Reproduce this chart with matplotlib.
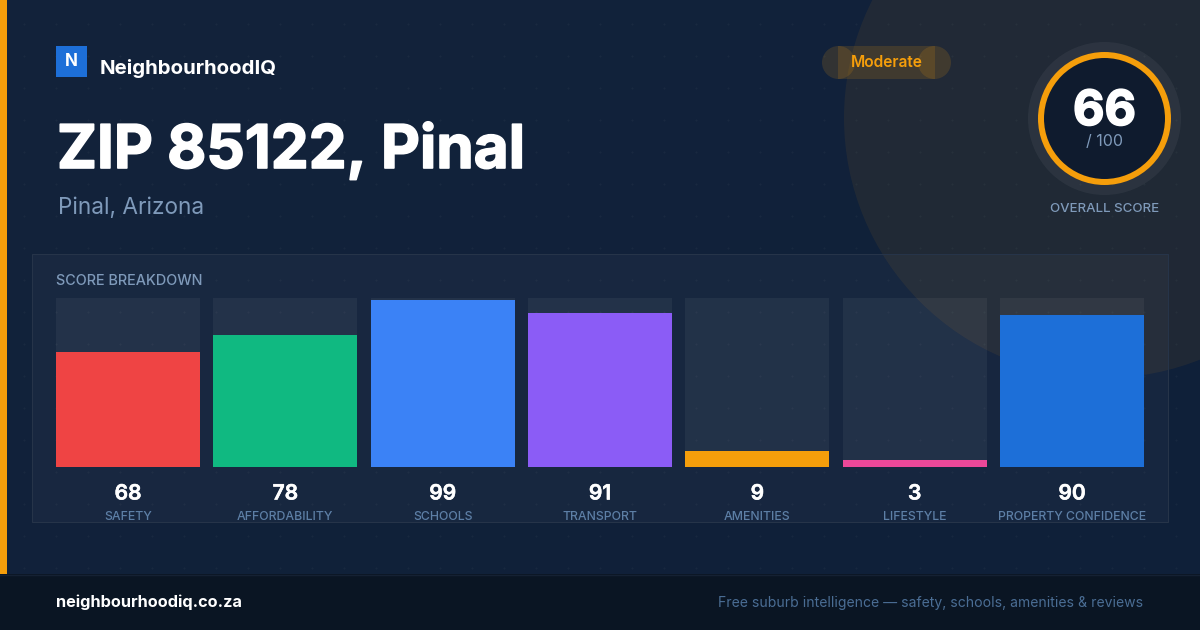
import numpy as np
import matplotlib
matplotlib.use("Agg")
import matplotlib.pyplot as plt
from matplotlib.patches import Circle, Ellipse, Rectangle
import matplotlib.patheffects as pe
from matplotlib.colors import LinearSegmentedColormap

categories = ["SAFETY", "AFFORDABILITY", "SCHOOLS", "TRANSPORT", "AMENITIES", "LIFESTYLE", "PROPERTY CONFIDENCE"]
scores = [68, 78, 99, 91, 9, 3, 90]
# Bar lengths: the shortest bars are drawn a little longer than their printed score.
bar_lengths = [68, 78, 99, 91, 9.5, 4.1, 90]
bar_colors = ["#ef4444", "#10b981", "#3b82f6", "#8b5cf6", "#f59e0b", "#ec4899", "#1d6fd8"]
overall_score = 66
title = "ZIP 85122, Pinal"
subtitle = "Pinal, Arizona"
brand = "NeighbourhoodIQ"
rating = "Moderate"
footer_left = "neighbourhoodiq.co.za"
footer_right = "Free suburb intelligence — safety, schools, amenities & reviews"

W, H = 1200, 630
plt.rcParams["font.family"] = ["Inter", "DejaVu Sans"]
PX = 0.72
fig = plt.figure(figsize=(12, 6.3), dpi=100)
bg = fig.add_axes([0, 0, 1, 1])
bg.set_xlim(0, W); bg.set_ylim(H, 0); bg.axis("off")

gx, gy = np.meshgrid(np.linspace(0, 1, 120), np.linspace(0, 1, 63))
cmap = LinearSegmentedColormap.from_list("bg", ["#13233b", "#0f2039"])
bg.imshow((gx + gy) / 2, extent=[0, W, H, 0], cmap=cmap, aspect="auto", zorder=0)
bg.set_xlim(0, W); bg.set_ylim(H, 0)

dx, dy = np.meshgrid(np.arange(24, W, 32), np.arange(24, 574, 32))
bg.scatter(dx.ravel(), dy.ravel(), s=2.5, color="#ffffff", alpha=0.035, linewidths=0, zorder=1)

amber = "#f59e0b"
bg.add_patch(Circle((1104, 118), 260, fc=amber, alpha=0.07, ec="none", zorder=1))
bg.add_patch(Rectangle((32, 254), 1137, 269, fc="#ffffff", ec="none", alpha=0.03, zorder=2))
bg.add_patch(Rectangle((32.5, 254.5), 1136, 268, fc="none", ec="#263449", lw=0.72, zorder=2, snap=False))

bg.add_patch(Rectangle((0, 0), 7, 574, fc=amber, ec="none", zorder=3))
bg.add_patch(Rectangle((0, 574), W, 56, fc="#0a1523", ec="none", zorder=3))
bg.plot([0, W], [574.5, 574.5], color="#152133", lw=1, zorder=3)

bg.add_patch(Rectangle((56, 46), 31, 31, fc="#1d6fd8", ec="none", zorder=3))
bg.text(71.5, 61, "N", color="white", fontsize=17 * PX, weight="bold", ha="center", va="center", zorder=4)
bg.text(100, 68.5, brand, color="white", fontsize=20.4 * PX, weight="bold", ha="left", va="center", zorder=4)
bg.text(57, 151, title, color="white", fontsize=60.2 * PX, weight="bold", ha="left", va="center", zorder=4,
        path_effects=[pe.withStroke(linewidth=1.2, foreground="white")])
bg.text(58, 208, subtitle, color="#7f9aba", fontsize=22.6 * PX, ha="left", va="center", zorder=4)

bg.add_patch(Ellipse((838.5, 62.5), 33, 33, fc=amber, alpha=0.15, ec="none", zorder=3))
bg.add_patch(Ellipse((934.5, 62.5), 33, 33, fc=amber, alpha=0.15, ec="none", zorder=3))
bg.add_patch(Rectangle((838, 46), 97, 33, fc=amber, alpha=0.15, ec="none", zorder=3))
bg.text(886.5, 62.5, rating, color=amber, fontsize=15.5 * PX, weight="semibold", ha="center", va="center", zorder=4)

bg.add_patch(Circle((1104.5, 118.5), 76.5, fc="#ffffff", alpha=0.05, ec="none", zorder=3))
bg.add_patch(Circle((1104.5, 118.5), 63.5, fc="#0f1b2e", ec=amber, lw=6 * PX, zorder=4))
bg.text(1104.5, 112, str(overall_score), color="white", fontsize=48.5 * PX, weight="bold", ha="center", va="center", zorder=5,
        path_effects=[pe.withStroke(linewidth=1.2, foreground="white")])
bg.text(1104.5, 142, "/ 100", color="#7f9aba", fontsize=16 * PX, ha="center", va="center", zorder=5)
bg.text(1104.5, 208.5, "OVERALL SCORE", color="#7f9aba", fontsize=13.3 * PX, weight="medium", ha="center", va="center", zorder=5)

bg.text(56, 281, "SCORE BREAKDOWN", color="#7f9aba", fontsize=14.4 * PX, weight="medium", ha="left", va="center", zorder=5)

bg.text(56, 602.5, footer_left, color="white", fontsize=16.3 * PX, weight="bold", ha="left", va="center", zorder=5)
bg.text(1143, 602.5, footer_right, color="#4a6d94", fontsize=14 * PX, ha="right", va="center", zorder=5)

ax = fig.add_axes([56 / W, (H - 467) / H, 1088 / W, 169 / H], facecolor="none")
x = np.arange(len(scores))
bw = 144 / (944 / 6)
ax.bar(x, [100] * len(scores), width=bw, color="#ffffff", alpha=0.05, linewidth=0)
ax.bar(x, bar_lengths, width=bw, color=bar_colors, linewidth=0)
ax.set_xlim(-bw / 2, len(scores) - 1 + bw / 2)
ax.set_ylim(0, 100)
ax.set_yticks([])
for s in ax.spines.values():
    s.set_visible(False)
ax.set_xticks(x, categories, color="#5d7fa6", fontsize=12.3 * PX, weight="medium")
ax.tick_params(axis="x", length=0, pad=44 * PX)
for xi, v in zip(x, scores):
    ax.annotate(str(v), (xi, 0), xytext=(0, -26.5 * PX), textcoords="offset points", color="white",
                fontsize=21 * PX, weight="semibold", ha="center", va="center",
                path_effects=[pe.withStroke(linewidth=0.4, foreground="white")])

fig.savefig("out.png", dpi=100)
